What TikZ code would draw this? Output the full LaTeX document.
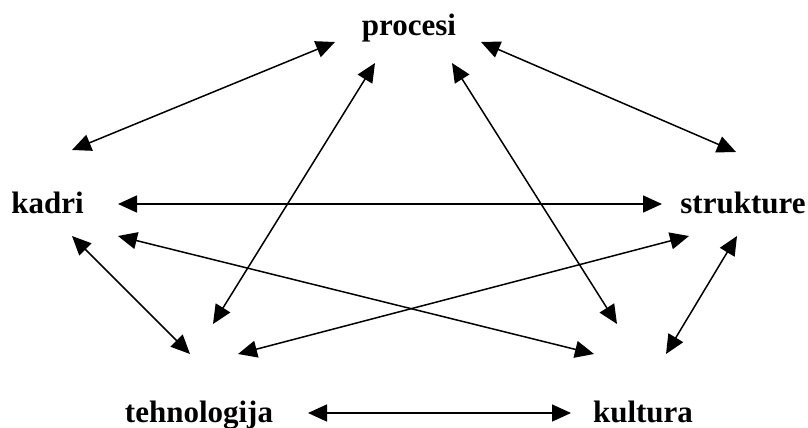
\documentclass[tikz,border=0pt]{standalone}
\usepackage{fontspec}
\setmainfont{Liberation Serif}
\usetikzlibrary{arrows.meta}
\tikzset{
  lbl/.style={font=\fontsize{31}{31}\selectfont\bfseries, inner sep=0pt, anchor=base},
  link/.style={line width=1.5pt, {Triangle[length=19pt,width=17pt]}-{Triangle[length=19pt,width=17pt]}}
}
\begin{document}
\begin{tikzpicture}[x=1pt,y=-1pt]
\useasboundingbox (0,0) rectangle (808,428);
% Labels
\node[lbl] (procesi) at (409,36) {procesi};
\node[lbl] (kadri) at (47.5,213) {kadri};
\node[lbl] (strukture) at (743,213) {strukture};
\node[lbl] (tehnologija) at (199,422) {tehnologija};
\node[lbl] (kultura) at (643,422) {kultura};
% Arrow ends round procesi
\coordinate (pk) at (335,42);
\coordinate (ps) at (481,42);
\coordinate (pt) at (375,63);
\coordinate (pu) at (452,63);
% Arrow ends round kadri
\coordinate (kp) at (72,150);
\coordinate (ks) at (118,204);
\coordinate (kt) at (72,236);
\coordinate (ku) at (118,236);
% Arrow ends round strukture
\coordinate (sp) at (736,152);
\coordinate (sk) at (662,204);
\coordinate (st) at (689,236);
\coordinate (su) at (737,236);
% Arrow ends round tehnologija
\coordinate (tp) at (213,324);
\coordinate (tk) at (190,354);
\coordinate (ts) at (238,354);
\coordinate (tu) at (308,413);
% Arrow ends round kultura
\coordinate (up) at (617,324);
\coordinate (uk) at (594,354);
\coordinate (us) at (666,354);
\coordinate (ut) at (571,413);
% Links
\draw[link] (kp) -- (pk);
\draw[link] (ps) -- (sp);
\draw[link] (tp) -- (pt);
\draw[link] (pu) -- (up);
\draw[link] (ks) -- (sk);
\draw[link] (kt) -- (tk);
\draw[link] (ku) -- (uk);
\draw[link] (ts) -- (st);
\draw[link] (su) -- (us);
\draw[link] (tu) -- (ut);
\end{tikzpicture}
\end{document}
